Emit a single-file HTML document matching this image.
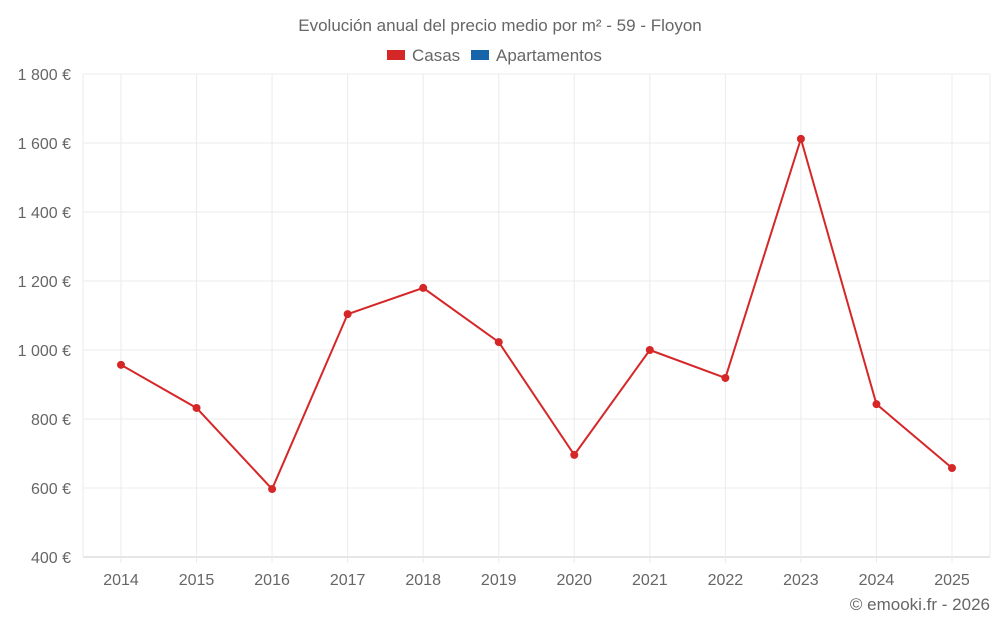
<!DOCTYPE html>
<html><head><meta charset="utf-8"><style>
body{margin:0;background:#fff;font-family:"Liberation Sans",sans-serif}
svg text{font-family:"Liberation Sans",sans-serif;fill:#666}
</style></head><body>
<svg id="chart" width="1000" height="625">
<text x="500" y="31" text-anchor="middle" font-size="17">Evolución anual del precio medio por m² - 59 - Floyon</text>
<g>
<g><rect x="387" y="50" width="18" height="10" fill="#d62728"/><text x="412" y="61" font-size="17">Casas</text></g>
<g><rect x="471" y="50" width="18" height="10" fill="#1565a8"/><text x="496" y="61" font-size="17">Apartamentos</text></g>
</g>
<g id="grid"></g><g id="axes"></g><g id="series"></g>
<text x="990" y="610" text-anchor="end" font-size="17">© emooki.fr - 2026</text>
</svg>
<script>
const years=["2014","2015","2016","2017","2018","2019","2020","2021","2022","2023","2024","2025"];
const casas=[957,832,597,1104,1180,1023,696,1000,919,1612,843,658];
const yTicks=[400,600,800,1000,1200,1400,1600,1800];
const yTickLabels=["400 €","600 €","800 €","1 000 €","1 200 €","1 400 €","1 600 €","1 800 €"];
const L=83,R=990,T=74,B=557,ymin=400,ymax=1800;
const x=i=>121+i*(952-121)/(years.length-1);
const y=v=>B-(v-ymin)/(ymax-ymin)*(B-T);
const NS="http://www.w3.org/2000/svg";
function mk(tag,attrs,parent){const e=document.createElementNS(NS,tag);for(const k in attrs)e.setAttribute(k,attrs[k]);document.getElementById(parent).appendChild(e);return e;}
yTicks.forEach((v,i)=>{
 const g=mk('line',{x1:L,x2:R,y1:y(v),y2:y(v),stroke:i==0?'#ccc':'#ebebeb'},'grid');
 
 
 const t=mk('text',{x:71,y:y(v)+6,'text-anchor':'end','font-size':16},'axes');t.textContent=yTickLabels[i];
 
 
});
[L,R].forEach(xx=>{const g=mk('line',{x1:xx,x2:xx,y1:T,y2:B,stroke:'#ebebeb'},'grid');
 
 });
years.forEach((yr,i)=>{
 const g=mk('line',{x1:x(i),x2:x(i),y1:T,y2:B+6,stroke:'#ebebeb'},'grid');
 
 
 const t=mk('text',{x:x(i),y:585,'text-anchor':'middle','font-size':16},'axes');t.textContent=yr;
 
 
});
const p=mk('polyline',{points:casas.map((v,i)=>x(i)+','+y(v)).join(' '),fill:'none',stroke:'#d62728','stroke-width':2},'series');


casas.forEach((v,i)=>{const c=mk('circle',{cx:x(i),cy:y(v),r:4,fill:'#d62728'},'series');
 
 });
</script>
</body></html>
